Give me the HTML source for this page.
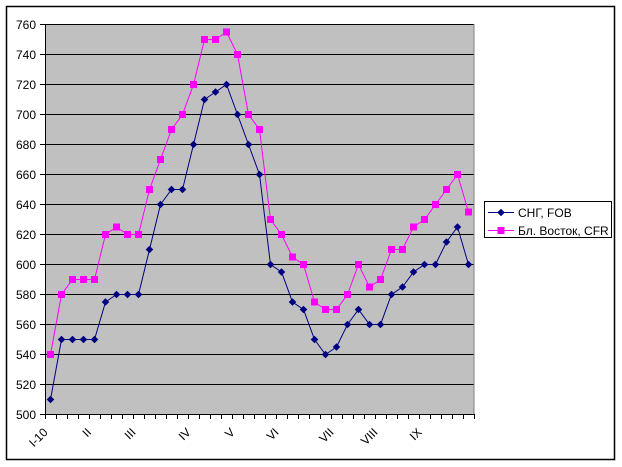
<!DOCTYPE html>
<html><head><meta charset="utf-8"><style>
html,body{margin:0;padding:0;background:#fff;}
svg{display:block;}
text{font-family:"Liberation Sans",Arial,sans-serif;font-size:12px;fill:#000;}
</style></head><body>
<svg width="622" height="467" viewBox="0 0 622 467" xmlns="http://www.w3.org/2000/svg">
<defs>
<symbol id="dm" overflow="visible"><path d="M0,-3.8 L3.8,0 L0,3.8 L-3.8,0 Z" fill="#000080"/></symbol>
<symbol id="sq" overflow="visible"><rect x="-3.5" y="-3.5" width="7" height="7" fill="#FF00FF"/></symbol>
</defs>
<rect x="0" y="0" width="622" height="467" fill="#fff"/>
<rect x="6.5" y="6.5" width="608" height="453" fill="none" stroke="#000" stroke-width="1.5"/>
<!-- plot area -->
<rect x="45" y="24" width="429.5" height="390.5" fill="#c0c0c0"/>
<g stroke="#000" stroke-width="1">
<line x1="40" y1="24.5" x2="474" y2="24.5"/>
<line x1="40" y1="54.5" x2="474" y2="54.5"/>
<line x1="40" y1="84.5" x2="474" y2="84.5"/>
<line x1="40" y1="114.5" x2="474" y2="114.5"/>
<line x1="40" y1="144.5" x2="474" y2="144.5"/>
<line x1="40" y1="174.5" x2="474" y2="174.5"/>
<line x1="40" y1="204.5" x2="474" y2="204.5"/>
<line x1="40" y1="234.5" x2="474" y2="234.5"/>
<line x1="40" y1="264.5" x2="474" y2="264.5"/>
<line x1="40" y1="294.5" x2="474" y2="294.5"/>
<line x1="40" y1="324.5" x2="474" y2="324.5"/>
<line x1="40" y1="354.5" x2="474" y2="354.5"/>
<line x1="40" y1="384.5" x2="474" y2="384.5"/>
<line x1="40" y1="414.5" x2="474.5" y2="414.5"/>
<line x1="45.5" y1="24" x2="45.5" y2="415"/>
</g>
<line x1="45" y1="24.5" x2="474.5" y2="24.5" stroke="#808080" stroke-width="1" opacity="0.0"/>
<line x1="474" y1="24" x2="474" y2="414" stroke="#808080" stroke-width="1"/>
<!-- x ticks -->
<path stroke="#000" stroke-width="1" d="M45.5,414 v5 M56.5,414 v5 M67.5,414 v5 M78.5,414 v5 M89.5,414 v5 M100.5,414 v5 M111.5,414 v5 M122.5,414 v5 M133.5,414 v5 M144.5,414 v5 M155.5,414 v5 M166.5,414 v5 M177.5,414 v5 M188.5,414 v5 M199.5,414 v5 M210.5,414 v5 M221.5,414 v5 M232.5,414 v5 M243.5,414 v5 M254.5,414 v5 M265.5,414 v5 M276.5,414 v5 M287.5,414 v5 M298.5,414 v5 M309.5,414 v5 M320.5,414 v5 M331.5,414 v5 M342.5,414 v5 M353.5,414 v5 M364.5,414 v5 M375.5,414 v5 M386.5,414 v5 M397.5,414 v5 M408.5,414 v5 M419.5,414 v5 M430.5,414 v5 M441.5,414 v5 M452.5,414 v5 M463.5,414 v5 M474.5,414 v5"/>
<!-- y labels -->
<g text-anchor="end">
<text x="36" y="29">760</text>
<text x="36" y="59">740</text>
<text x="36" y="89">720</text>
<text x="36" y="119">700</text>
<text x="36" y="149">680</text>
<text x="36" y="179">660</text>
<text x="36" y="209">640</text>
<text x="36" y="239">620</text>
<text x="36" y="269">600</text>
<text x="36" y="299">580</text>
<text x="36" y="329">560</text>
<text x="36" y="359">540</text>
<text x="36" y="389">520</text>
<text x="36" y="419">500</text>
</g>
<!-- x labels -->
<g text-anchor="end">
<text transform="translate(48.5,433) rotate(-45)">I-10</text>
<text transform="translate(92,433) rotate(-45)">II</text>
<text transform="translate(136.5,433) rotate(-45)">III</text>
<text transform="translate(191.5,433) rotate(-45)">IV</text>
<text transform="translate(235.5,433) rotate(-45)">V</text>
<text transform="translate(279.5,433) rotate(-45)">VI</text>
<text transform="translate(334.5,433) rotate(-45)">VII</text>
<text transform="translate(378.5,433) rotate(-45)">VIII</text>
<text transform="translate(422.5,433) rotate(-45)">IX</text>
</g>
<!-- pink series -->
<polyline fill="none" stroke="#FF00FF" stroke-width="1" points="50.5,354.5 61.5,294.5 72.5,279.5 83.5,279.5 94.5,279.5 105.5,234.5 116.5,227 127.5,234.5 138.5,234.5 149.5,189.5 160.5,159.5 171.5,129.5 182.5,114.5 193.5,84.5 204.5,39.5 215.5,39.5 226.5,32 237.5,54.5 248.5,114.5 259.5,129.5 270.5,219.5 281.5,234.5 292.5,257 303.5,264.5 314.5,302 325.5,309.5 336.5,309.5 347.5,294.5 358.5,264.5 369.5,287 380.5,279.5 391.5,249.5 402.5,249.5 413.5,227 424.5,219.5 435.5,204.5 446.5,189.5 457.5,174.5 468.5,212"/>
<g>
<use href="#sq" x="50.5" y="354.5"/><use href="#sq" x="61.5" y="294.5"/><use href="#sq" x="72.5" y="279.5"/><use href="#sq" x="83.5" y="279.5"/><use href="#sq" x="94.5" y="279.5"/><use href="#sq" x="105.5" y="234.5"/><use href="#sq" x="116.5" y="227"/><use href="#sq" x="127.5" y="234.5"/><use href="#sq" x="138.5" y="234.5"/><use href="#sq" x="149.5" y="189.5"/><use href="#sq" x="160.5" y="159.5"/><use href="#sq" x="171.5" y="129.5"/><use href="#sq" x="182.5" y="114.5"/><use href="#sq" x="193.5" y="84.5"/><use href="#sq" x="204.5" y="39.5"/><use href="#sq" x="215.5" y="39.5"/><use href="#sq" x="226.5" y="32"/><use href="#sq" x="237.5" y="54.5"/><use href="#sq" x="248.5" y="114.5"/><use href="#sq" x="259.5" y="129.5"/><use href="#sq" x="270.5" y="219.5"/><use href="#sq" x="281.5" y="234.5"/><use href="#sq" x="292.5" y="257"/><use href="#sq" x="303.5" y="264.5"/><use href="#sq" x="314.5" y="302"/><use href="#sq" x="325.5" y="309.5"/><use href="#sq" x="336.5" y="309.5"/><use href="#sq" x="347.5" y="294.5"/><use href="#sq" x="358.5" y="264.5"/><use href="#sq" x="369.5" y="287"/><use href="#sq" x="380.5" y="279.5"/><use href="#sq" x="391.5" y="249.5"/><use href="#sq" x="402.5" y="249.5"/><use href="#sq" x="413.5" y="227"/><use href="#sq" x="424.5" y="219.5"/><use href="#sq" x="435.5" y="204.5"/><use href="#sq" x="446.5" y="189.5"/><use href="#sq" x="457.5" y="174.5"/><use href="#sq" x="468.5" y="212"/>
</g>
<!-- blue series -->
<polyline fill="none" stroke="#000080" stroke-width="1" points="50.5,399.5 61.5,339.5 72.5,339.5 83.5,339.5 94.5,339.5 105.5,302 116.5,294.5 127.5,294.5 138.5,294.5 149.5,249.5 160.5,204.5 171.5,189.5 182.5,189.5 193.5,144.5 204.5,99.5 215.5,92 226.5,84.5 237.5,114.5 248.5,144.5 259.5,174.5 270.5,264.5 281.5,272 292.5,302 303.5,309.5 314.5,339.5 325.5,354.5 336.5,347 347.5,324.5 358.5,309.5 369.5,324.5 380.5,324.5 391.5,294.5 402.5,287 413.5,272 424.5,264.5 435.5,264.5 446.5,242 457.5,227 468.5,264.5"/>
<g>
<use href="#dm" x="50.5" y="399.5"/><use href="#dm" x="61.5" y="339.5"/><use href="#dm" x="72.5" y="339.5"/><use href="#dm" x="83.5" y="339.5"/><use href="#dm" x="94.5" y="339.5"/><use href="#dm" x="105.5" y="302"/><use href="#dm" x="116.5" y="294.5"/><use href="#dm" x="127.5" y="294.5"/><use href="#dm" x="138.5" y="294.5"/><use href="#dm" x="149.5" y="249.5"/><use href="#dm" x="160.5" y="204.5"/><use href="#dm" x="171.5" y="189.5"/><use href="#dm" x="182.5" y="189.5"/><use href="#dm" x="193.5" y="144.5"/><use href="#dm" x="204.5" y="99.5"/><use href="#dm" x="215.5" y="92"/><use href="#dm" x="226.5" y="84.5"/><use href="#dm" x="237.5" y="114.5"/><use href="#dm" x="248.5" y="144.5"/><use href="#dm" x="259.5" y="174.5"/><use href="#dm" x="270.5" y="264.5"/><use href="#dm" x="281.5" y="272"/><use href="#dm" x="292.5" y="302"/><use href="#dm" x="303.5" y="309.5"/><use href="#dm" x="314.5" y="339.5"/><use href="#dm" x="325.5" y="354.5"/><use href="#dm" x="336.5" y="347"/><use href="#dm" x="347.5" y="324.5"/><use href="#dm" x="358.5" y="309.5"/><use href="#dm" x="369.5" y="324.5"/><use href="#dm" x="380.5" y="324.5"/><use href="#dm" x="391.5" y="294.5"/><use href="#dm" x="402.5" y="287"/><use href="#dm" x="413.5" y="272"/><use href="#dm" x="424.5" y="264.5"/><use href="#dm" x="435.5" y="264.5"/><use href="#dm" x="446.5" y="242"/><use href="#dm" x="457.5" y="227"/><use href="#dm" x="468.5" y="264.5"/>
</g>
<!-- legend -->
<rect x="484.5" y="201.5" width="127" height="36" fill="#fff" stroke="#000" stroke-width="1"/>
<line x1="488" y1="212.5" x2="514" y2="212.5" stroke="#000080" stroke-width="1"/>
<use href="#dm" x="501" y="212.5"/>
<text x="518" y="217">СНГ, FOB</text>
<line x1="488" y1="230.5" x2="514" y2="230.5" stroke="#FF00FF" stroke-width="1"/>
<use href="#sq" x="501" y="230.5"/>
<text x="518" y="235">Бл. Восток, CFR</text>
</svg>
</body></html>
